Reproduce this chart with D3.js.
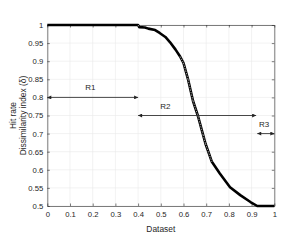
<!DOCTYPE html>
<html><head><meta charset="utf-8">
<script src="https://cdn.jsdelivr.net/npm/d3@7"></script>
<style>html,body{margin:0;padding:0;background:#fff}</style>
</head><body>
<script>
const xVals = [0, 0.40, 0.405, 0.43, 0.445, 0.475, 0.495, 0.52, 0.54, 0.565, 0.585, 0.60, 0.62, 0.642, 0.664, 0.686, 0.697, 0.725, 0.76, 0.805, 0.85, 0.895, 0.925, 1.0];
const yVals = [1, 1, 0.994, 0.993, 0.99, 0.986, 0.978, 0.967, 0.953, 0.932, 0.913, 0.895, 0.85, 0.79, 0.748, 0.697, 0.672, 0.622, 0.59, 0.552, 0.53, 0.511, 0.5, 0.5];
const xTicks = [0,0.1,0.2,0.3,0.4,0.5,0.6,0.7,0.8,0.9,1];
const yTicks = [0.5,0.55,0.6,0.65,0.7,0.75,0.8,0.85,0.9,0.95,1];
const regionNames = ["R1","R2","R3"];
const regionStart = [0, 0.4, 0.925];
const regionEnd = [0.4, 0.92, 1.0];
const regionY = [0.8, 0.75, 0.7];
const labelX = [0.19, 0.52, 0.955];
const labelY = [0.82, 0.768, 0.718];

const W=299,H=240, m={l:47.3,r:24.7,t:25,b:34};
const svg=d3.select("body").append("svg").attr("width",W).attr("height",H).style("font-family","'Liberation Sans',Arial,sans-serif");
svg.append("rect").attr("width",W).attr("height",H).attr("fill","#fff");
const x=d3.scaleLinear().domain([0,1]).range([m.l,W-m.r]);
const y=d3.scaleLinear().domain([0.5,1]).range([H-m.b,m.t]);
const ax="#262626";

// grid
svg.append("g").selectAll("line").data(xTicks).join("line")
 .attr("x1",d=>x(d)).attr("x2",d=>x(d)).attr("y1",y(0.5)).attr("y2",y(1))
 .attr("stroke","#e9e9e9").attr("stroke-width",0.6);
svg.append("g").selectAll("line").data(yTicks).join("line")
 .attr("y1",d=>y(d)).attr("y2",d=>y(d)).attr("x1",x(0)).attr("x2",x(1))
 .attr("stroke","#e9e9e9").attr("stroke-width",0.6);

// axes
const fs="7.7px";
const gx=svg.append("g").attr("transform",`translate(0,${y(0.5)})`)
 .call(d3.axisBottom(x).tickValues(xTicks).tickFormat(d3.format("~g")).tickSizeInner(-2.5).tickSizeOuter(0).tickPadding(6));
const gy=svg.append("g").attr("transform",`translate(${x(0)},0)`)
 .call(d3.axisLeft(y).tickValues(yTicks).tickFormat(d3.format("~g")).tickSizeInner(-2.5).tickSizeOuter(0).tickPadding(4));
const gx2=svg.append("g").attr("transform",`translate(0,${y(1)})`)
 .call(d3.axisTop(x).tickValues(xTicks).tickFormat("").tickSizeInner(-2.5).tickSizeOuter(0));
const gy2=svg.append("g").attr("transform",`translate(${x(1)},0)`)
 .call(d3.axisRight(y).tickValues(yTicks).tickFormat("").tickSizeInner(-2.5).tickSizeOuter(0));
[gx,gy,gx2,gy2].forEach(g=>{
  g.selectAll("path").attr("stroke",ax).attr("stroke-width",0.6);
  g.selectAll("line").attr("stroke",ax).attr("stroke-width",0.6);
  g.selectAll("text").attr("fill",ax).style("font-size",fs).style("font-family","'Liberation Sans',Arial,sans-serif");
});

// axis labels
svg.append("text").attr("x",x(0.5)).attr("y",H-8).attr("text-anchor","middle")
 .style("font-size","8.4px").attr("fill",ax).text("Dataset");
const cy=(y(0.5)+y(1))/2;
svg.append("text").attr("transform",`translate(15.5,${cy}) rotate(-90)`).attr("text-anchor","middle")
 .style("font-size","8.4px").attr("fill",ax).text("Hit rate");
svg.append("text").attr("transform",`translate(26,${cy}) rotate(-90)`).attr("text-anchor","middle")
 .style("font-size","8.4px").attr("fill",ax).text("Dissimilarity index (δ)");

// curve
const pts=xVals.map((d,i)=>[d,yVals[i]]);
const line=d3.line().x(d=>x(d[0])).y(d=>y(d[1]));
svg.append("path").datum(pts).attr("d",line)
 .attr("fill","none").attr("stroke","#000").attr("stroke-width",2.6).attr("stroke-linejoin","round");
// hollow-marker look on steep segments (markers spread apart there)
const steep=[];
for(let i=1;i<pts.length;i++){
  const dxp=Math.abs(x(pts[i][0])-x(pts[i-1][0])), dyp=Math.abs(y(pts[i][1])-y(pts[i-1][1]));
  if(dyp>dxp*1.6) steep.push([pts[i-1],pts[i]]);
}
svg.append("g").selectAll("path").data(steep).join("path").attr("d",line)
 .attr("fill","none").attr("stroke","#b0b0b0").attr("stroke-width",0.9).attr("stroke-dasharray","1.4,1.2");

// arrows
const defs=svg.append("defs");
defs.append("marker").attr("id","ah").attr("viewBox","0 0 10 10").attr("refX",10).attr("refY",5)
 .attr("markerWidth",5).attr("markerHeight",4).attr("markerUnits","userSpaceOnUse").attr("orient","auto-start-reverse")
 .append("path").attr("d","M0,0 L10,5 L0,10 z").attr("fill","#222");
const ag=svg.append("g");
regionNames.forEach((n,i)=>{
  ag.append("line").attr("x1",x(regionStart[i])).attr("x2",x(regionEnd[i]))
   .attr("y1",y(regionY[i])).attr("y2",y(regionY[i]))
   .attr("stroke","#333").attr("stroke-width",0.9)
   .attr("marker-start","url(#ah)").attr("marker-end","url(#ah)");
  ag.append("text").attr("x",x(labelX[i])).attr("y",y(labelY[i])).attr("text-anchor","middle")
   .style("font-size","8px").attr("fill",ax).text(n);
});
</script>
</body></html>
